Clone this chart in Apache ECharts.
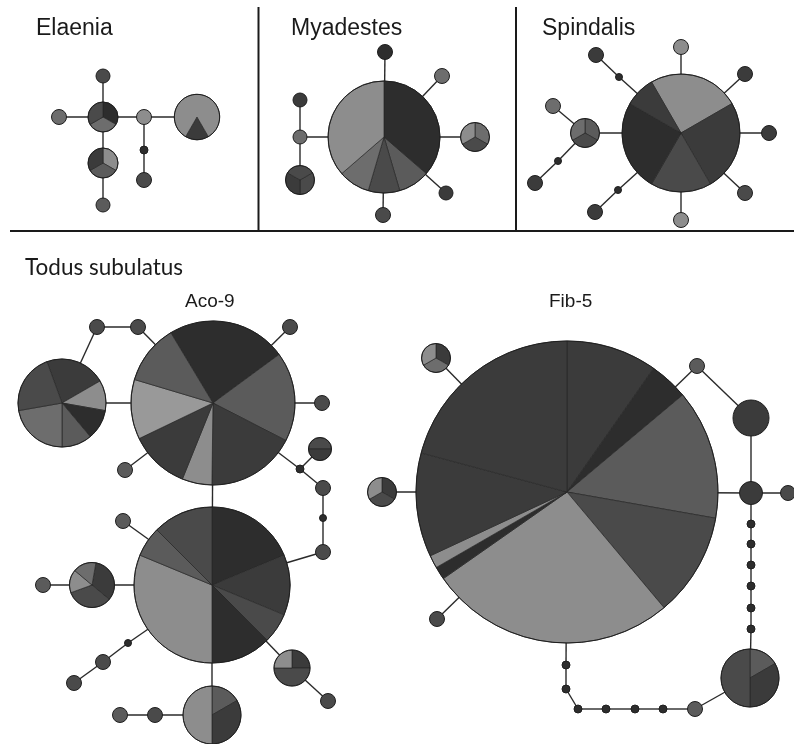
<!DOCTYPE html>
<html>
<head>
<meta charset="utf-8">
<script src="https://cdn.jsdelivr.net/npm/echarts@6/dist/echarts.min.js"></script>
<style>
  html, body { margin: 0; padding: 0; background: #fff; }
  #chart { width: 794px; height: 744px; }
</style>
</head>
<body>
<div id="chart"></div>
<script>
// ---- Haplotype networks --------------------------------------------------
// Node layout: [id, x, y, radius, start angle of first slice (deg, clockwise from 12 o'clock)]
// Slices: [id, [[population, count], ...]]
// Links: [from, to]

const elaeniaNodes = [
  ['E1', 103, 76, 7, 0], ['E2', 103, 117, 15, 0], ['E3', 59, 117, 7.5, 0],
  ['E4', 103, 163, 15, 0], ['E5', 103, 205, 7, 0], ['E6', 144, 117, 7.5, 0],
  ['E7', 144, 150, 4, 0], ['E8', 144, 180, 7.5, 0], ['E9', 197, 117, 22.7, 150]
];
const elaeniaSlices = [
  ['E1', [[3, 1]]], ['E2', [[5, 1], [1, 1], [3, 1]]], ['E3', [[1, 1]]],
  ['E4', [[0, 1], [2, 1], [4, 1]]], ['E5', [[2, 1]]], ['E6', [[0, 1]]],
  ['E7', [[5, 1]]], ['E8', [[3, 1]]], ['E9', [[4, 1], [0, 5]]]
];
const elaeniaLinks = [
  ['E1', 'E2'], ['E3', 'E2'], ['E2', 'E4'], ['E4', 'E5'], ['E2', 'E6'],
  ['E6', 'E9'], ['E6', 'E7'], ['E7', 'E8']
];

const myadestesNodes = [
  ['M1', 384, 137, 56, 0], ['M2', 385, 52, 7.5, 0], ['M3', 442, 76, 7.5, 0],
  ['M4', 475, 137, 14.5, 0], ['M5', 446, 193, 7, 0], ['M6', 383, 215, 7.5, 0],
  ['M7', 300, 100, 7, 0], ['M8', 300, 137, 7, 0], ['M9', 300, 180, 14.5, 60]
];
const myadestesSlices = [
  ['M1', [[5, 8], [2, 2], [3, 2], [1, 2], [0, 8]]], ['M2', [[5, 1]]], ['M3', [[1, 1]]],
  ['M4', [[1, 1], [3, 1], [0, 1]]], ['M5', [[4, 1]]], ['M6', [[3, 1]]],
  ['M7', [[4, 1]]], ['M8', [[1, 1]]], ['M9', [[3, 1], [4, 1], [3, 1]]]
];
const myadestesLinks = [
  ['M1', 'M2'], ['M1', 'M3'], ['M1', 'M4'], ['M1', 'M5'], ['M1', 'M6'],
  ['M1', 'M8'], ['M7', 'M8'], ['M8', 'M9']
];

const spindalisNodes = [
  ['S1', 681, 133, 59, 330], ['S2', 681, 47, 7.5, 0], ['S3', 745, 74, 7.5, 0],
  ['S4', 769, 133, 7.5, 0], ['S5', 745, 193, 7.5, 0], ['S6', 681, 220, 7.5, 0],
  ['S7', 596, 55, 7.5, 0], ['S8', 619, 77, 3.5, 0], ['S9', 585, 133, 14.5, 0],
  ['S10', 553, 106, 7.5, 0], ['S11', 558, 161, 3.5, 0], ['S12', 535, 183, 7.5, 0],
  ['S13', 618, 190, 3.5, 0], ['S14', 595, 212, 7.5, 0]
];
const spindalisSlices = [
  ['S1', [[0, 3], [4, 3], [3, 2], [5, 3], [4, 1]]], ['S2', [[0, 1]]], ['S3', [[4, 1]]],
  ['S4', [[4, 1]]], ['S5', [[3, 1]]], ['S6', [[0, 1]]], ['S7', [[4, 1]]],
  ['S8', [[5, 1]]], ['S9', [[2, 1], [3, 1], [1, 1]]], ['S10', [[1, 1]]],
  ['S11', [[5, 1]]], ['S12', [[4, 1]]], ['S13', [[5, 1]]], ['S14', [[4, 1]]]
];
const spindalisLinks = [
  ['S1', 'S2'], ['S1', 'S3'], ['S1', 'S4'], ['S1', 'S5'], ['S1', 'S6'],
  ['S1', 'S8'], ['S8', 'S7'], ['S1', 'S9'], ['S9', 'S10'], ['S9', 'S11'],
  ['S11', 'S12'], ['S1', 'S13'], ['S13', 'S14']
];

const acoNodes = [
  ['A1', 213, 403, 82, 329], ['A2', 62, 403, 44, 340], ['A3', 322, 403, 7.5, 0],
  ['A4', 97, 327, 7.5, 0], ['A5', 138, 327, 7.5, 0], ['A6', 290, 327, 7.5, 0],
  ['A7', 125, 470, 7.5, 0], ['A8', 320, 449, 11.5, 270], ['A9', 300, 469, 4, 0],
  ['A10', 323, 488, 7.5, 0], ['A11', 323, 518, 3.5, 0], ['A12', 323, 552, 7.5, 0],
  ['A13', 212, 585, 78, 0], ['A14', 123, 521, 7.5, 0], ['A15', 92, 585, 22.5, 10],
  ['A16', 43, 585, 7.5, 0], ['A17', 128, 643, 3.5, 0], ['A18', 103, 662, 7.5, 0],
  ['A19', 74, 683, 7.5, 0], ['A20', 292, 668, 18, 0], ['A21', 328, 701, 7.5, 0],
  ['A22', 212, 715, 29, 0], ['A23', 155, 715, 7.5, 0], ['A24', 120, 715, 7.5, 0]
];
const acoSlices = [
  ['A1', [[5, 4], [2, 3], [4, 3], [0, 1], [4, 2], [6, 2], [2, 2]]],
  ['A2', [[4, 2], [0, 1], [5, 1], [2, 1], [1, 2], [3, 2]]],
  ['A3', [[3, 1]]], ['A4', [[3, 1]]], ['A5', [[3, 1]]], ['A6', [[3, 1]]], ['A7', [[2, 1]]],
  ['A8', [[3, 1], [4, 1]]], ['A9', [[5, 1]]], ['A10', [[3, 1]]], ['A11', [[5, 1]]],
  ['A12', [[3, 1]]],
  ['A13', [[5, 3], [4, 2], [3, 1], [5, 2], [0, 5], [2, 1], [3, 2]]],
  ['A14', [[2, 1]]], ['A15', [[4, 2], [3, 2], [0, 1], [1, 1]]], ['A16', [[2, 1]]],
  ['A17', [[5, 1]]], ['A18', [[3, 1]]], ['A19', [[3, 1]]],
  ['A20', [[4, 1], [3, 2], [0, 1]]], ['A21', [[3, 1]]],
  ['A22', [[2, 1], [4, 2], [0, 3]]], ['A23', [[3, 1]]], ['A24', [[2, 1]]]
];
const acoLinks = [
  ['A1', 'A2'], ['A2', 'A4'], ['A4', 'A5'], ['A5', 'A1'], ['A1', 'A6'], ['A1', 'A3'],
  ['A1', 'A7'], ['A1', 'A9'], ['A9', 'A8'], ['A9', 'A10'], ['A10', 'A11'],
  ['A11', 'A12'], ['A12', 'A13'], ['A1', 'A13'], ['A13', 'A14'], ['A13', 'A15'],
  ['A15', 'A16'], ['A13', 'A17'], ['A17', 'A18'], ['A18', 'A19'], ['A13', 'A20'],
  ['A20', 'A21'], ['A13', 'A22'], ['A22', 'A23'], ['A23', 'A24']
];

const fibNodes = [
  ['F1', 567, 492, 151, 0], ['F2', 436, 358, 14.5, 0], ['F3', 382, 492, 14.5, 0],
  ['F4', 437, 619, 7.5, 0], ['F5', 697, 366, 7.5, 0], ['F6', 751, 418, 18, 0],
  ['F7', 751, 493, 11.5, 0], ['F8', 788, 493, 7.5, 0],
  ['F9', 751, 524, 4, 0], ['F10', 751, 544, 4, 0], ['F11', 751, 565, 4, 0],
  ['F12', 751, 586, 4, 0], ['F13', 751, 608, 4, 0], ['F14', 751, 629, 4, 0],
  ['F15', 750, 678, 29, 0],
  ['F16', 566, 665, 4, 0], ['F17', 566, 689, 4, 0], ['F18', 578, 709, 4, 0],
  ['F19', 606, 709, 4, 0], ['F20', 635, 709, 4, 0], ['F21', 663, 709, 4, 0],
  ['F22', 695, 709, 7.5, 0]
];
const fibSlices = [
  ['F1', [[4, 7], [5, 3], [2, 10], [3, 8], [0, 19], [5, 1], [0, 1], [4, 8], [4, 15]]],
  ['F2', [[4, 1], [1, 1], [0, 1]]], ['F3', [[4, 1], [3, 1], [0, 1]]],
  ['F4', [[3, 1]]], ['F5', [[2, 1]]], ['F6', [[4, 1]]], ['F7', [[4, 1]]], ['F8', [[3, 1]]],
  ['F9', [[5, 1]]], ['F10', [[5, 1]]], ['F11', [[5, 1]]], ['F12', [[5, 1]]],
  ['F13', [[5, 1]]], ['F14', [[5, 1]]],
  ['F15', [[2, 1], [4, 2], [3, 3]]],
  ['F16', [[5, 1]]], ['F17', [[5, 1]]], ['F18', [[5, 1]]], ['F19', [[5, 1]]],
  ['F20', [[5, 1]]], ['F21', [[5, 1]]], ['F22', [[2, 1]]]
];
const fibLinks = [
  ['F1', 'F2'], ['F1', 'F3'], ['F1', 'F4'], ['F1', 'F5'], ['F5', 'F6'], ['F6', 'F7'],
  ['F1', 'F7'], ['F7', 'F8'], ['F7', 'F9'], ['F9', 'F10'], ['F10', 'F11'],
  ['F11', 'F12'], ['F12', 'F13'], ['F13', 'F14'], ['F14', 'F15'],
  ['F1', 'F16'], ['F16', 'F17'], ['F17', 'F18'], ['F18', 'F19'], ['F19', 'F20'],
  ['F20', 'F21'], ['F21', 'F22'], ['F22', 'F15']
];

// Grey shade per population index
const populationShades = ['#8d8d8d', '#6d6d6d', '#5b5b5b', '#4a4a4a', '#3b3b3b', '#2d2d2d', '#999999'];
const outline = '#1f1f1f';

// ---- Assemble series data ------------------------------------------------
const networks = [
  [elaeniaNodes, elaeniaSlices, elaeniaLinks],
  [myadestesNodes, myadestesSlices, myadestesLinks],
  [spindalisNodes, spindalisSlices, spindalisLinks],
  [acoNodes, acoSlices, acoLinks],
  [fibNodes, fibSlices, fibLinks]
];

const nodeData = [];   // [x, y, r, index]
const nodeInfo = [];   // slices + start angle per node
const linkData = [];   // [x1, y1, x2, y2]

networks.forEach(([nodes, slices, links]) => {
  const pos = {};
  const sliceMap = {};
  slices.forEach(([id, s]) => { sliceMap[id] = s; });
  nodes.forEach(([id, x, y, r, start]) => {
    pos[id] = [x, y];
    nodeInfo.push({ slices: sliceMap[id], start: start });
    nodeData.push([x, y, r, nodeInfo.length - 1]);
  });
  links.forEach(([a, b]) => {
    linkData.push([pos[a][0], pos[a][1], pos[b][0], pos[b][1]]);
  });
});

function renderLink(params, api) {
  const p1 = api.coord([api.value(0), api.value(1)]);
  const p2 = api.coord([api.value(2), api.value(3)]);
  return {
    type: 'line',
    shape: { x1: p1[0], y1: p1[1], x2: p2[0], y2: p2[1] },
    style: { stroke: '#2a2a2a', lineWidth: 1.4 }
  };
}

function renderNode(params, api) {
  const c = api.coord([api.value(0), api.value(1)]);
  const r = api.size([api.value(2), 0])[0];
  const info = nodeInfo[api.value(3)];
  const total = info.slices.reduce((s, d) => s + d[1], 0);
  const children = [];
  if (info.slices.length === 1) {
    children.push({
      type: 'circle',
      shape: { cx: c[0], cy: c[1], r: r },
      style: { fill: populationShades[info.slices[0][0]], stroke: outline, lineWidth: 1 }
    });
  } else {
    let a = info.start;
    info.slices.forEach(([pop, count]) => {
      const span = count / total * 360;
      children.push({
        type: 'sector',
        shape: {
          cx: c[0], cy: c[1], r: r, r0: 0,
          startAngle: (a - 90) * Math.PI / 180,
          endAngle: (a + span - 90) * Math.PI / 180,
          clockwise: true
        },
        style: { fill: populationShades[pop], stroke: '#262626', lineWidth: 0.7 }
      });
      a += span;
    });
    children.push({
      type: 'circle',
      shape: { cx: c[0], cy: c[1], r: r },
      style: { fill: 'none', stroke: outline, lineWidth: 1 }
    });
  }
  return { type: 'group', children: children };
}

const chart = echarts.init(document.getElementById('chart'), null, { renderer: 'canvas' });

const sans = 'Liberation Sans, Arial, sans-serif';
const frame = { stroke: '#1a1a1a', lineWidth: 2 };

chart.setOption({
  animation: false,
  backgroundColor: '#ffffff',
  grid: { left: 0, right: 0, top: 0, bottom: 0 },
  xAxis: { type: 'value', min: 0, max: 794, show: false },
  yAxis: { type: 'value', min: 0, max: 744, inverse: true, show: false },
  graphic: [
    { type: 'line', shape: { x1: 10, y1: 231, x2: 794, y2: 231 }, style: frame },
    { type: 'line', shape: { x1: 258.5, y1: 7, x2: 258.5, y2: 231 }, style: frame },
    { type: 'line', shape: { x1: 516, y1: 7, x2: 516, y2: 231 }, style: frame },
    { type: 'text', left: 36, top: 17, style: { text: 'Elaenia', font: '23px ' + sans, fill: '#1a1a1a' } },
    { type: 'text', left: 291, top: 17, style: { text: 'Myadestes', font: '23px ' + sans, fill: '#1a1a1a' } },
    { type: 'text', left: 542, top: 17, style: { text: 'Spindalis', font: '23px ' + sans, fill: '#1a1a1a' } },
    { type: 'text', left: 25, top: 256, style: { text: 'Todus subulatus', font: '22.5px Lato, sans-serif', fill: '#1a1a1a' } },
    { type: 'text', left: 185, top: 292, style: { text: 'Aco-9', font: '19px ' + sans, fill: '#1a1a1a' } },
    { type: 'text', left: 549, top: 292, style: { text: 'Fib-5', font: '19px ' + sans, fill: '#1a1a1a' } }
  ],
  series: [
    {
      type: 'custom',
      coordinateSystem: 'cartesian2d',
      renderItem: renderLink,
      encode: { x: [0, 2], y: [1, 3] },
      data: linkData,
      silent: true,
      z: 1
    },
    {
      type: 'custom',
      coordinateSystem: 'cartesian2d',
      renderItem: renderNode,
      encode: { x: 0, y: 1 },
      data: nodeData,
      silent: true,
      z: 2
    }
  ]
});
</script>
</body>
</html>
